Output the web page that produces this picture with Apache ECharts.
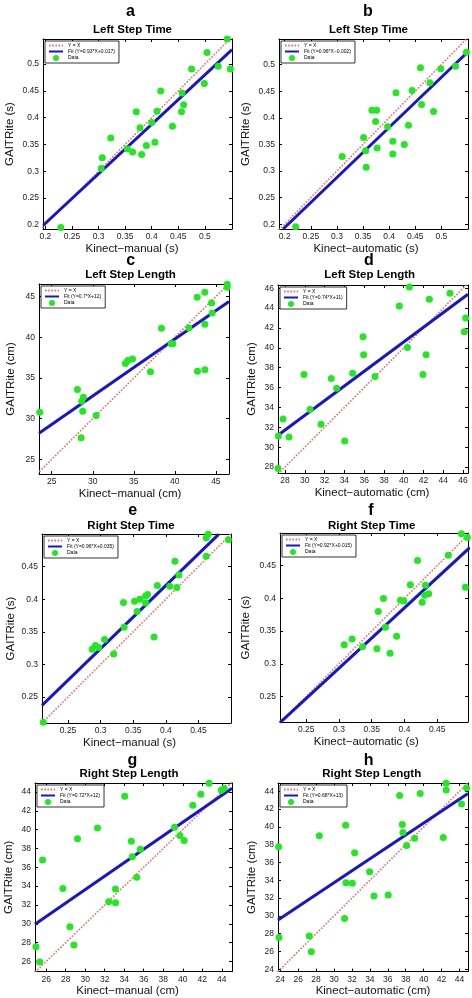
<!DOCTYPE html>
<html><head><meta charset="utf-8">
<script src="https://cdn.jsdelivr.net/npm/echarts@6/dist/echarts.min.js"></script>
<style>html,body{margin:0;padding:0;background:#fff}#c{width:472px;height:998px}</style>
</head><body><div id="c"></div>
<script>
// ---------- DATA ----------
const letters = ['a','b','c','d','e','f','g','h'];
const titles = ['Left Step Time','Left Step Time','Left Step Length','Left Step Length','Right Step Time','Right Step Time','Right Step Length','Right Step Length'];
const xNames = ['Kinect\u2212manual (s)','Kinect\u2212automatic (s)','Kinect\u2212manual (cm)','Kinect\u2212automatic (cm)','Kinect\u2212manual (s)','Kinect\u2212automatic (s)','Kinect\u2212manual (cm)','Kinect\u2212automatic (cm)'];
const yNames = ['GAITRite (s)','GAITRite (s)','GAITRite (cm)','GAITRite (cm)','GAITRite (s)','GAITRite (s)','GAITRite (cm)','GAITRite (cm)'];
const refName = 'Y = X';
const dataName = 'Data';
const fitNames = ['Fit (Y=0.93*X+0.017)','Fit (Y=0.96*X\u22120.002)','Fit (Y=0.7*X+12)','Fit (Y=0.74*X+11)','Fit (Y=0.96*X+0.035)','Fit (Y=0.92*X+0.015)','Fit (Y=0.72*X+12)','Fit (Y=0.68*X+13)'];

const aKinect = [0.542,0.504,0.548,0.525,0.475,0.499,0.417,0.457,0.46,0.456,0.41,0.371,0.40,0.378,0.439,0.323,0.39,0.406,0.354,0.364,0.381,0.307,0.305,0.229];
const aGait   = [0.547,0.522,0.491,0.496,0.491,0.464,0.45,0.446,0.424,0.411,0.412,0.411,0.391,0.381,0.384,0.362,0.348,0.354,0.342,0.336,0.331,0.325,0.305,0.195];
const bKinect = [0.512,0.548,0.46,0.499,0.527,0.478,0.444,0.413,0.462,0.485,0.367,0.376,0.374,0.397,0.437,0.351,0.407,0.429,0.377,0.355,0.407,0.31,0.356,0.221];
const bGait   = [0.549,0.523,0.494,0.492,0.497,0.466,0.451,0.447,0.425,0.412,0.414,0.414,0.393,0.383,0.386,0.363,0.356,0.35,0.343,0.338,0.332,0.327,0.307,0.195];
const cKinect = [46.38,46.38,43.66,42.72,44.47,44.55,43.66,41.71,38.37,39.55,39.76,37.03,42.76,43.66,33.98,34.27,34.84,28.13,28.86,28.66,28.78,30.41,23.54,28.58];
const cGait   = [46.52,46.15,45.53,44.92,44.22,42.99,41.59,41.14,41.1,39.21,39.21,35.76,35.84,36.0,36.79,37.16,37.32,33.58,32.64,32.15,30.91,30.38,30.79,27.67];
const dKinect = [42.32,40.57,44.68,42.59,39.56,46.27,46.13,35.89,40.37,35.95,42.26,29.92,34.84,41.95,37.1,32.68,33.22,30.53,27.8,31.64,27.33,28.4,34.03,27.29];
const dGait   = [46.44,46.13,45.5,44.89,44.22,43.0,41.63,41.12,40.04,39.3,39.3,37.32,37.45,37.32,37.12,36.92,35.94,33.79,32.84,32.3,31.13,31.03,30.62,27.85];
const eKinect = [0.465,0.462,0.496,0.462,0.414,0.42,0.387,0.406,0.417,0.372,0.369,0.36,0.352,0.369,0.335,0.356,0.336,0.306,0.382,0.292,0.297,0.287,0.32,0.212];
const eGait   = [0.4995,0.494,0.491,0.466,0.458,0.437,0.421,0.42,0.418,0.407,0.405,0.40,0.397,0.394,0.395,0.381,0.357,0.338,0.342,0.329,0.326,0.323,0.316,0.211];
const fKinect = [0.487,0.496,0.50,0.467,0.42,0.498,0.493,0.409,0.432,0.431,0.437,0.368,0.394,0.399,0.427,0.36,0.371,0.388,0.32,0.308,0.336,0.358,0.378,0.26];
const fGait   = [0.499,0.493,0.491,0.466,0.458,0.437,0.417,0.421,0.42,0.405,0.407,0.40,0.397,0.396,0.394,0.38,0.356,0.342,0.338,0.329,0.326,0.323,0.316,0.21];
const gKinect = [42.7,43.96,44.24,34.05,41.85,41.03,31.26,39.16,39.71,40.15,29.21,34.73,35.65,34.83,25.63,35.28,27.71,33.1,32.41,33.1,28.43,28.84,24.95,25.33];
const gGait   = [44.92,44.18,44.39,43.54,43.75,42.59,40.18,40.25,39.37,38.84,39.02,38.77,37.92,37.11,36.76,34.95,33.75,33.68,32.34,32.23,29.69,27.75,27.57,25.94];
const hKinect = [42.52,42.52,44.79,39.62,37.32,44.23,31.3,37.62,37.69,23.82,28.36,38.99,42.19,38.1,32.3,33.97,31.33,32.04,34.46,36.05,31.18,27.24,23.86,27.47];
const hGait   = [44.91,44.16,44.39,43.75,43.53,42.59,40.2,40.28,39.38,37.77,39.0,38.74,38.82,37.92,37.1,34.97,33.74,33.66,32.24,32.35,29.7,27.75,27.57,25.96];

// fit line end points (x list, y list)
const fitX = [[0.196,0.551],[0.197,0.551],[23.45,46.6],[27.29,46.5],[0.21,0.481],[0.21,0.50],[24.85,45.05],[23.75,44.95]];
const fitY = [[0.199,0.527],[0.191,0.524],[28.2,44.4],[31.2,45.4],[0.237,0.4995],[0.21,0.478],[29.95,44.4],[29.55,43.75]];
// Y = X reference line extent
const refLine = [[0.19,0.552],[0.189,0.552],[23.2,46.6],[27.29,46.5],[0.21,0.50],[0.21,0.50],[24.85,45.05],[23.74,44.95]];

// axis ranges
const xRange = [[0.1955,0.551],[0.189,0.551],[23.45,46.6],[27.29,46.5],[0.21,0.50],[0.21,0.497],[24.85,45.05],[23.75,44.95]];
const yRange = [[0.192,0.547],[0.191,0.548],[23.2,46.55],[27.4,46.33],[0.21,0.50],[0.211,0.50],[24.92,44.95],[23.74,44.94]];

// tick labels
const ticksTimeLeft = [0.2,0.25,0.3,0.35,0.4,0.45,0.5];
const ticksTimeRight = [0.25,0.3,0.35,0.4,0.45];
const ticksLenC = [25,30,35,40,45];
const ticksLenD = [28,30,32,34,36,38,40,42,44,46];
const ticksLenG = [26,28,30,32,34,36,38,40,42,44];
const ticksLenH = [24,26,28,30,32,34,36,38,40,42,44];
const xTicks = [ticksTimeLeft,ticksTimeLeft,ticksLenC,ticksLenD,ticksTimeRight,ticksTimeRight,ticksLenG,ticksLenH];
const yTicks = [ticksTimeLeft,ticksTimeLeft,ticksLenC,ticksLenD,ticksTimeRight,ticksTimeRight,ticksLenG,ticksLenH];

const kinect = [aKinect,bKinect,cKinect,dKinect,eKinect,fKinect,gKinect,hKinect];
const gait = [aGait,bGait,cGait,dGait,eGait,fGait,gGait,hGait];

// ---------- LAYOUT ----------
const grids = [
  {left:43,top:39,width:189,height:190},
  {left:279,top:39,width:189,height:190},
  {left:39,top:284,width:190,height:190},
  {left:278,top:285,width:190,height:188},
  {left:42,top:534,width:189,height:189},
  {left:280,top:533,width:188,height:189},
  {left:35,top:783,width:197,height:189},
  {left:278,top:783,width:190,height:189}
];
const letterPos = [[130.5,12],[368,12],[130.7,261],[369,261],[132.7,511],[371,511],[132.3,761],[368.7,761]];
const titlePos = [[132.5,30],[368.5,30],[130.5,275],[369.7,275],[131,526],[371.7,526],[129,774],[371.7,774]];
const xNameShift = [-5.5,-7.5,-4,-1,-7,-7.7,-6,0];
const xNameGap = [12,11,11.5,12,11.5,12,11,11.5];
const yNameGap = [27,27,22.5,20.5,25.5,28,20,20.5];

const FONT = "'Liberation Sans', Arial, Helvetica, sans-serif";
const RED = '#f06a6a', BLUE = '#1717c9', GREEN = '#22e822';

const chart = echarts.init(document.getElementById('c'), null, {renderer:'canvas', width:472, height:998});
const option = {animation:false, backgroundColor:'#fff', grid:[], xAxis:[], yAxis:[], series:[], legend:[], graphic:[]};

function axisBase(i, range, ticks){
  return {type:'value', gridIndex:i, min:range[0], max:range[1],
    splitLine:{show:false},
    axisLine:{show:true, onZero:false, lineStyle:{color:'#000', width:1}},
    axisTick:{show:true, inside:true, length:3, customValues:ticks, lineStyle:{color:'#000', width:1}}};
}

for (let i=0;i<8;i++){
  const G = grids[i];
  option.grid.push({left:G.left, top:G.top, width:G.width, height:G.height, containLabel:false});
  const s = xNameShift[i];
  const pad = s < 0 ? [0,-2*s,0,0] : [0,0,0,2*s];
  option.xAxis.push(Object.assign(axisBase(i, xRange[i], xTicks[i]), {
    position:'bottom',
    axisLabel:{customValues:xTicks[i], margin:3.5, fontSize:8.5, color:'#222', fontFamily:FONT, hideOverlap:false},
    name:xNames[i], nameLocation:'middle', nameGap:xNameGap[i],
    nameTextStyle:{fontSize:11.5, color:'#111', fontFamily:FONT, padding:pad}
  }));
  option.xAxis.push(Object.assign(axisBase(i, xRange[i], xTicks[i]), {position:'top', axisLabel:{show:false}}));
  option.yAxis.push(Object.assign(axisBase(i, yRange[i], yTicks[i]), {
    position:'left',
    axisLabel:{customValues:yTicks[i], margin:4, fontSize:8.5, color:'#222', fontFamily:FONT, hideOverlap:false},
    name:yNames[i], nameLocation:'middle', nameGap:yNameGap[i],
    nameTextStyle:{fontSize:11.5, color:'#111', fontFamily:FONT}
  }));
  option.yAxis.push(Object.assign(axisBase(i, yRange[i], yTicks[i]), {position:'right', axisLabel:{show:false}}));

  const xi = 2*i, yi = 2*i;
  option.series.push({
    name:refName, type:'line', xAxisIndex:xi, yAxisIndex:yi, symbol:'none', silent:true,
    data:[[refLine[i][0],refLine[i][0]],[refLine[i][1],refLine[i][1]]],
    lineStyle:{color:RED, width:1.6, type:[1.6,1.6]}, z:2
  });
  option.series.push({
    name:fitNames[i], type:'line', xAxisIndex:xi, yAxisIndex:yi, symbol:'none', silent:true,
    data:fitX[i].map((x,k)=>[x, fitY[i][k]]),
    lineStyle:{color:BLUE, width:3}, z:3
  });
  option.series.push({
    name:dataName, type:'scatter', xAxisIndex:xi, yAxisIndex:yi, symbolSize:7, clip:true,
    data:kinect[i].map((x,k)=>[x, gait[i][k]]),
    itemStyle:{color:GREEN, opacity:1}, z:4
  });

  option.legend.push({
    orient:'vertical', left:G.left+2, top:G.top+2, selectedMode:false,
    data:[
      {name:refName, itemStyle:{opacity:0}},
      {name:fitNames[i], itemStyle:{opacity:0}},
      {name:dataName, icon:'circle'}
    ],
    itemWidth:14, itemHeight:6, itemGap:1, padding:[2,4,2,3],
    borderColor:'#000', borderWidth:0.8, backgroundColor:'#fff',
    textStyle:{fontSize:5, color:'#000', fontFamily:FONT}
  });

  option.graphic.push({type:'text', silent:true, style:{text:letters[i], x:letterPos[i][0], y:letterPos[i][1], textAlign:'center', textVerticalAlign:'middle', font:'bold 16px '+FONT, fill:'#000'}});
  option.graphic.push({type:'text', silent:true, style:{text:titles[i], x:titlePos[i][0], y:titlePos[i][1], textAlign:'center', textVerticalAlign:'middle', font:'bold 11.5px '+FONT, fill:'#000'}});
}

chart.setOption(option);
</script>
</body></html>
